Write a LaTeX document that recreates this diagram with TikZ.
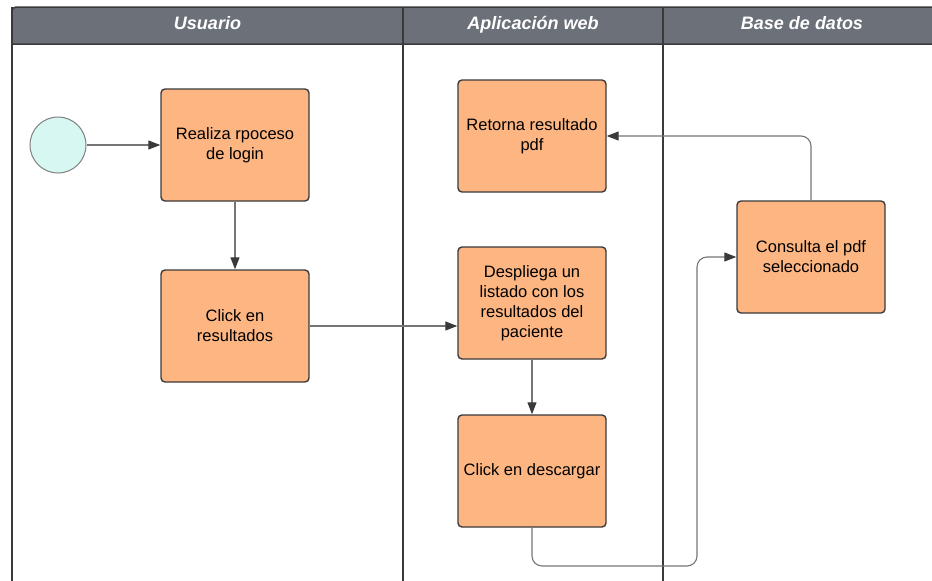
\documentclass[tikz,border=0pt]{standalone}
\usepackage{fontspec}
\setmainfont{Liberation Sans}
\usetikzlibrary{arrows.meta}

\definecolor{headgray}{HTML}{6B7079}
\definecolor{boxfill}{HTML}{FDB682}
\definecolor{boxline}{HTML}{3A3A3A}
\definecolor{startfill}{HTML}{D7F8F2}
\definecolor{flowgray}{HTML}{757575}

\begin{document}
\begin{tikzpicture}[x=1pt, y=-1pt,
    actbox/.style={draw=boxline, fill=boxfill, line width=1.4pt, rounded corners=4pt,
        minimum width=148pt, minimum height=112pt, align=center, inner sep=2pt,
        font=\fontsize{16.5}{20}\selectfont},
    startnode/.style={circle, draw=gray, fill=startfill, line width=1pt,
        minimum size=56pt, inner sep=0pt},
    lanehead/.style={text=white, anchor=base, font=\fontsize{18}{20}\selectfont\bfseries\itshape},
    laneline/.style={draw=boxline, line width=1.5pt},
    flow/.style={draw=flowgray, line width=1.1pt, rounded corners=10pt,
        -{Triangle[length=12pt, width=9pt, color=boxline]}}]

    \useasboundingbox (0,0) rectangle (932,581);
    \clip (0,0) rectangle (932,581);

    % the header band of the pool
    \draw[laneline, fill=headgray] (12,44) [rounded corners=4pt] -- (12,7)
        [sharp corners] -- (950,7) -- (950,44) -- cycle;
    % the lane borders
    \foreach \x in {12, 403, 663}
        \draw[laneline] (\x,7) -- (\x,590);

    % the lane titles
    \node[lanehead] (usuario) at (207.5,29) {Usuario};
    \node[lanehead] (webapp) at (533,29) {Aplicación web};
    \node[lanehead] (basedatos) at (802,29) {Base de datos};

    % start event
    \node[startnode] (inicio) at (58,145) {};

    % activities of Usuario
    \node[actbox] (login) at (235,145) {Realiza rpoceso\\de login};
    \node[actbox] (resultados) at (235,326) {Click en\\resultados};

    % activities of Aplicacion web
    \node[actbox] (retorna) at (532,136) {Retorna resultado\\pdf};
    \node[actbox] (listado) at (532,303) {Despliega un\\listado con los\\resultados del\\paciente};
    \node[actbox] (descarga) at (532,471) {Click en descargar};

    % activity of Base de datos
    \node[actbox] (consulta) at (811,257) {Consulta el pdf\\seleccionado};

    % the flow
    \coordinate (giro) at (697,566);
    \draw[flow] (inicio) -- (login);
    \draw[flow] (login) -- (resultados);
    \draw[flow] (resultados.east) -- (resultados.east -| listado.west);
    \draw[flow] (listado) -- (descarga);
    \draw[flow] (descarga.south) |- (giro) |- (consulta.west);
    \draw[flow] (consulta.north) |- (retorna.east);
\end{tikzpicture}
\end{document}
